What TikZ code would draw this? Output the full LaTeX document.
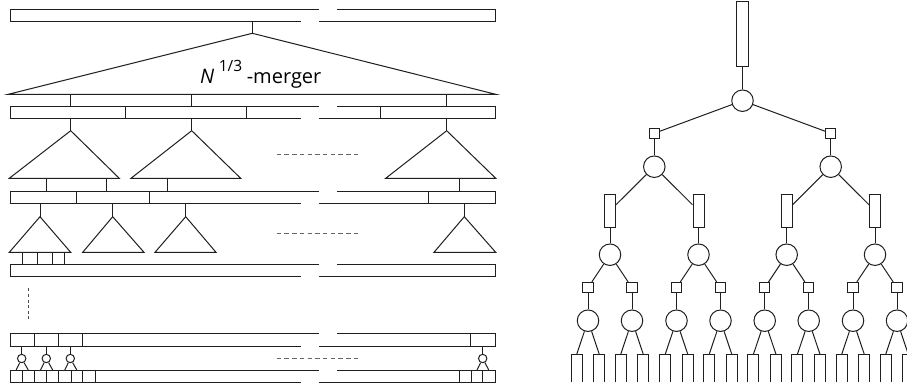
\documentclass[tikz,border=0pt]{standalone}
\usepackage{fontspec}
\setmainfont{Open Sans}
\tikzset{
  ln/.style={line width=1pt, draw=black!88},
  hdash/.style={line width=1pt, draw=black!60, dash pattern=on 4.5pt off 3.2pt},
  vdash/.style={line width=1pt, draw=black!70, dash pattern=on 3pt off 2.6pt},
  circ/.style={circle, draw=black!88, line width=1pt, minimum size=21.5pt, inner sep=0pt},
  sq/.style={rectangle, draw=black!88, line width=1pt, minimum size=10.5pt, inner sep=0pt},
  buf/.style={rectangle, draw=black!88, line width=1pt, minimum width=11pt, minimum height=33pt, inner sep=0pt},
  rootbuf/.style={rectangle, draw=black!88, line width=1pt, minimum width=12pt, minimum height=65.5pt, inner sep=0pt},
  smallc/.style={circle, draw=black!88, line width=1pt, minimum size=8.4pt, inner sep=0pt},
}
\newcommand\brokenbar[2]{%
  \draw[ln] (318.5,#1) -- (10,#1) -- (10,#2) -- (301,#2);
  \draw[ln] (337.3,#1) -- (495,#1) -- (495,#2) -- (319.3,#2);
}
\begin{document}
\begin{tikzpicture}[x=1pt,y=-1pt]
\useasboundingbox (0,0) rectangle (907,386);

% ---------- left: levels of mergers ----------
\brokenbar{9.3}{21.7}
\coordinate (topstem) at (252.3,21.7);
\coordinate (apex) at (252.3,33.3);
\draw[ln] (topstem) -- (apex);
\draw[ln] (8.3,94.3) -- (apex) -- (495.7,94.3) -- cycle;
\node[anchor=base west, inner sep=0pt] (lbl) at (200,83.5)
  {\fontsize{20}{22}\selectfont\textit{N}\hspace{4.5pt}\raisebox{12.5pt}{\fontsize{15.5}{16}\selectfont 1/3}\hspace{4.5pt}-merger};

\foreach \x in {70.7,191.7,446.7} \draw[ln] (\x,94.3) -- (\x,106.7);
\brokenbar{106.7}{118.3}
\foreach \x in {125.7,246.7,380} \draw[ln] (\x,106.7) -- (\x,118.3);
\foreach \x in {70.7,191.7,446.7} \draw[ln] (\x,118.3) -- (\x,130.7);

% middle triangles
\draw[ln] (9.3,178.3) -- (70.7,130.7) -- (119.3,178.3) -- cycle;
\draw[ln] (131,178.3) -- (191.7,130.7) -- (240.7,178.3) -- cycle;
\draw[ln] (385.7,178.3) -- (446.7,130.7) -- (495.7,178.3) -- cycle;
\draw[hdash] (276.7,154.3) -- (361,154.3);
\foreach \x in {46.7,106.7,167.3,459} \draw[ln] (\x,178.3) -- (\x,191);

\brokenbar{191}{203.3}
\foreach \x in {76.7,149.3,428.3} \draw[ln] (\x,191) -- (\x,203.3);
\foreach \x in {40,112.7,185.7,464.3} \draw[ln] (\x,203.3) -- (\x,216.7);

% small triangles
\draw[ln] (9.3,252.3) -- (40,216.7) -- (70.7,252.3) -- cycle;
\draw[ln] (82.7,252.3) -- (112.7,216.7) -- (144,252.3) -- cycle;
\draw[ln] (155,252.3) -- (185.7,216.7) -- (216,252.3) -- cycle;
\draw[ln] (434,252.3) -- (464.3,216.7) -- (495.7,252.3) -- cycle;
\draw[hdash] (276.7,233.3) -- (361,233.3);
\foreach \x in {22.3,37.3,52.7,64.3} \draw[ln] (\x,252.3) -- (\x,264);

\brokenbar{264}{276}
\draw[vdash] (28,288.3) -- (28,321.7);

\brokenbar{333.3}{346}
\foreach \x in {34.3,58.7,82.7,470.7} \draw[ln] (\x,333.3) -- (\x,346);

\foreach \x/\l/\r [count=\i] in {21.7/16.2/28.3, 46.3/40.5/52.7, 70.3/64.8/76.8, 482.7/477/488.8} {
  \node[smallc] (m\i) at (\x,358.5) {};
  \coordinate (mt\i) at (\x,346);
  \coordinate (ml\i) at (\l,370);
  \coordinate (mr\i) at (\r,370);
  \draw[ln] (mt\i) -- (m\i);
  \draw[ln] (m\i) -- (ml\i);
  \draw[ln] (m\i) -- (mr\i);
}
\draw[hdash] (276.7,358.3) -- (361,358.3);
\brokenbar{370}{382.3}
\foreach \x in {22.3,34.3,46.7,58.7,71,82.7,95.7,459.3,471,482.7} \draw[ln] (\x,370) -- (\x,382.3);

% ---------- right: the tree ----------
\node[rootbuf] (rb) at (742.5,34) {};
\node[circ] (c0) at (742.5,100.7) {};
\draw[ln] (rb) -- (c0);
\foreach \i/\x in {1/654.3, 2/830.7} {
  \node[sq] (s\i) at (\x,133.3) {};
  \node[circ] (c\i) at (\x,166.7) {};
  \draw[ln] (c0) -- (s\i);
  \draw[ln] (s\i) -- (c\i);
}
\foreach \j/\x/\p in {1/610/1, 2/698.5/1, 3/786.7/2, 4/875/2} {
  \node[buf] (b\j) at (\x,210.7) {};
  \node[circ] (d\j) at (\x,254.7) {};
  \draw[ln] (c\p) -- (b\j);
  \draw[ln] (b\j) -- (d\j);
  \foreach \k/\dx in {a/-22, b/22} {
    \node[sq] (t\j\k) at ({\x+(\dx)},287.7) {};
    \node[circ] (e\j\k) at ({\x+(\dx)},320.7) {};
    \draw[ln] (d\j) -- (t\j\k);
    \draw[ln] (t\j\k) -- (e\j\k);
    \foreach \m/\ex in {l/-11.3, r/11.3} {
      \coordinate (f\j\k\m) at ({\x+(\dx)+(\ex)},354.3);
      \draw[ln] (e\j\k) -- (f\j\k\m);
      \draw[ln] ([xshift=-5.5pt]f\j\k\m) ++(0,28) -- ++(0,-28) -- ++(11,0) -- ++(0,28);
    }
  }
}
\end{tikzpicture}
\end{document}
